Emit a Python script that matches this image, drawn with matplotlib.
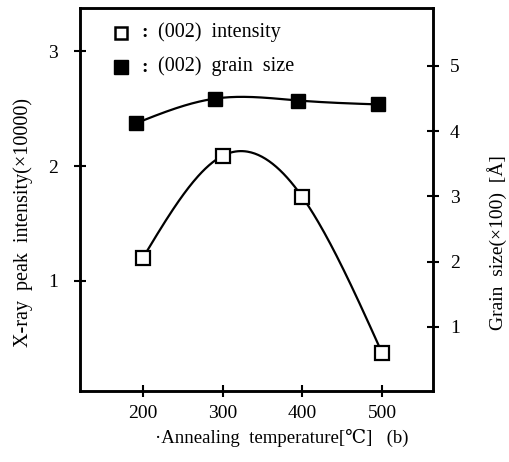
import numpy as np
import matplotlib
matplotlib.use("Agg")
import matplotlib.pyplot as plt

plt.rcParams['font.family'] = ['Liberation Serif', 'DejaVu Serif', 'DejaVu Sans']

# intensity data (left axis, x10000)
temp_int = [200, 300, 400, 500]
intensity = [1.2, 2.09, 1.73, 0.37]

# grain size data (right axis, x100 A)
temp_grain = [191, 291, 395, 495]
grain = [4.12, 4.5, 4.47, 4.41]


def natural_spline(x, y, n=200):
    # natural cubic spline through the points, for the smooth connecting line
    x = np.asarray(x, float)
    y = np.asarray(y, float)
    k = len(x)
    h = np.diff(x)
    A = np.zeros((k, k))
    b = np.zeros(k)
    A[0, 0] = A[-1, -1] = 1
    for i in range(1, k - 1):
        A[i, i - 1] = h[i - 1]
        A[i, i] = 2 * (h[i - 1] + h[i])
        A[i, i + 1] = h[i]
        b[i] = 6 * ((y[i + 1] - y[i]) / h[i] - (y[i] - y[i - 1]) / h[i - 1])
    M = np.linalg.solve(A, b)
    xs = np.linspace(x[0], x[-1], n)
    ys = np.empty_like(xs)
    for j, xv in enumerate(xs):
        i = min(np.searchsorted(x, xv, side='right') - 1, k - 2)
        t1 = x[i + 1] - xv
        t0 = xv - x[i]
        ys[j] = (M[i] * t1**3 / (6 * h[i]) + M[i + 1] * t0**3 / (6 * h[i])
                 + (y[i] / h[i] - M[i] * h[i] / 6) * t1
                 + (y[i + 1] / h[i] - M[i + 1] * h[i] / 6) * t0)
    return xs, ys


fig = plt.figure(figsize=(5.09, 4.62), dpi=100)
ax = fig.add_axes([0.157, 0.154, 0.694, 0.829])
ax2 = ax.twinx()

xs, ys = natural_spline(temp_int, intensity)
ax.plot(xs, ys, color='black', lw=1.6)
ax.plot(temp_int, intensity, 's', ms=9.5, mfc='white', mec='black', mew=1.6)

xs2, ys2 = natural_spline(temp_grain, grain)
ax2.plot(xs2, ys2, color='black', lw=1.6)
ax2.plot(temp_grain, grain, 's', ms=10, color='black')

ax.set_xlim(121, 564)
ax.set_ylim(0.04, 3.38)
ax2.set_ylim(0.02, 5.89)

ax.set_xticks([200, 300, 400, 500])
ax.set_yticks([1, 2, 3])
ax2.set_yticks([1, 2, 3, 4, 5])

for a in (ax, ax2):
    for s in a.spines.values():
        s.set_linewidth(1.8)
ax.tick_params(axis='both', direction='inout', length=8, width=1.5, labelsize=14, pad=6)
ax.tick_params(axis='y', pad=12)
ax2.tick_params(axis='y', direction='inout', length=8, width=1.5, labelsize=14, pad=8)

ax.set_xlabel('\u00b7Annealing  temperature[\u2103]   (b)', fontsize=13.5)
ax.xaxis.set_label_coords(0.57, -0.1)
ax.set_ylabel('X-ray  peak  intensity(\u00d710000)', fontsize=14.5)
ax.yaxis.set_label_coords(-0.133, 0.44)
ax2.set_ylabel('Grain  size(\u00d7100)  [\u00c5]', fontsize=14)
ax2.yaxis.set_label_coords(1.153, 0.386)

# legend drawn as markers and text
ax.plot([0.116], [0.935], 's', ms=9, mfc='white', mec='black', mew=1.8, transform=ax.transAxes, clip_on=False)
ax.plot([0.116], [0.845], 's', ms=9.5, color='black', transform=ax.transAxes, clip_on=False)
ax.text(0.175, 0.935, ':', transform=ax.transAxes, fontsize=14, fontweight='bold', va='center')
ax.text(0.175, 0.845, ':', transform=ax.transAxes, fontsize=14, fontweight='bold', va='center')
ax.text(0.222, 0.937, '(002)  intensity', transform=ax.transAxes, fontsize=14.5, va='center')
ax.text(0.222, 0.847, '(002)  grain  size', transform=ax.transAxes, fontsize=14.5, va='center')

fig.savefig('out.png', dpi=100)
